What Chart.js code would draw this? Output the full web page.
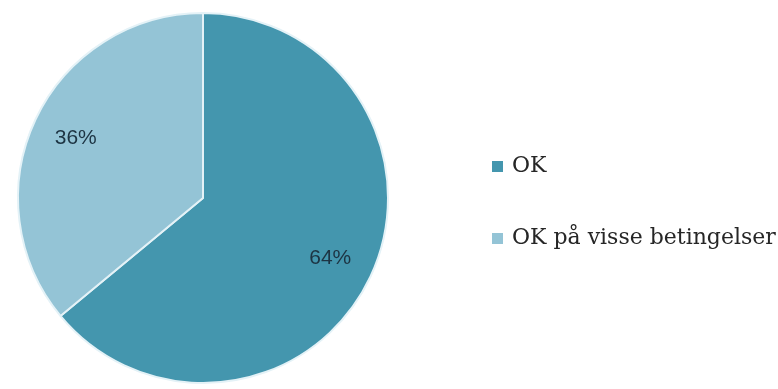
<!DOCTYPE html>
<html>
<head>
<meta charset="utf-8">
<script src="https://cdn.jsdelivr.net/npm/chart.js@4"></script>
<style>
  html, body { margin: 0; padding: 0; background: #fff; }
  #wrap { width: 778px; height: 389px; }
</style>
</head>
<body>
<div id="wrap"><canvas id="thePie"></canvas></div>
<script>
// categories and values
var labels = ["OK", "OK på visse betingelser"];
var values = [64, 36];
var colors = ["#4496ae", "#94c4d6"];

// draws the percent text inside each slice
var sliceLabels = {
    id: "sliceLabels",
    afterDatasetsDraw: function (chart) {
        var ctx = chart.ctx;
        var meta = chart.getDatasetMeta(0);
        var total = values.reduce(function (a, b) { return a + b; }, 0);
        ctx.save();
        ctx.font = "21px 'Liberation Sans', Arial, sans-serif";
        ctx.fillStyle = "#1d3443";
        ctx.textAlign = "center";
        ctx.textBaseline = "middle";
        meta.data.forEach(function (arc, i) {
            var mid = (arc.startAngle + arc.endAngle) / 2;
            var r = arc.outerRadius * 0.76;
            ctx.fillText(Math.round(values[i] / total * 100) + "%", arc.x + Math.cos(mid) * r, arc.y + Math.sin(mid) * r);
        });
        ctx.restore();
    }
};

// legend on the right, drawn next to the pie
var sideLegend = {
    id: "sideLegend",
    afterDraw: function (chart) {
        var ctx = chart.ctx;
        var x = chart.chartArea.right + 103;
        var y0 = 166, step = 72;
        ctx.save();
        ctx.font = "22px 'DejaVu Serif', serif";
        ctx.textBaseline = "middle";
        labels.forEach(function (lab, i) {
            var y = y0 + i * step;
            ctx.fillStyle = colors[i];
            ctx.fillRect(x, y - 5, 11, 11);
            ctx.fillStyle = "#262626";
            ctx.fillText(lab, x + 20, y);
        });
        ctx.restore();
    }
};

var ctx = document.getElementById("thePie");

var pie = new Chart(ctx, {
    type: "pie",
    data: {
        labels: labels,
        datasets: [
            {
                data: values,
                backgroundColor: colors,
                borderColor: "#e4f2f7",
                borderWidth: 2
            }
        ]
    },
    options: {
        responsive: true,
        maintainAspectRatio: false,
        animation: false,
        layout: { padding: { left: 17, top: 12, right: 389, bottom: 5 } },
        plugins: {
            legend: { display: false },
            tooltip: { enabled: false }
        }
    },
    plugins: [sliceLabels, sideLegend]
});
</script>
</body>
</html>
